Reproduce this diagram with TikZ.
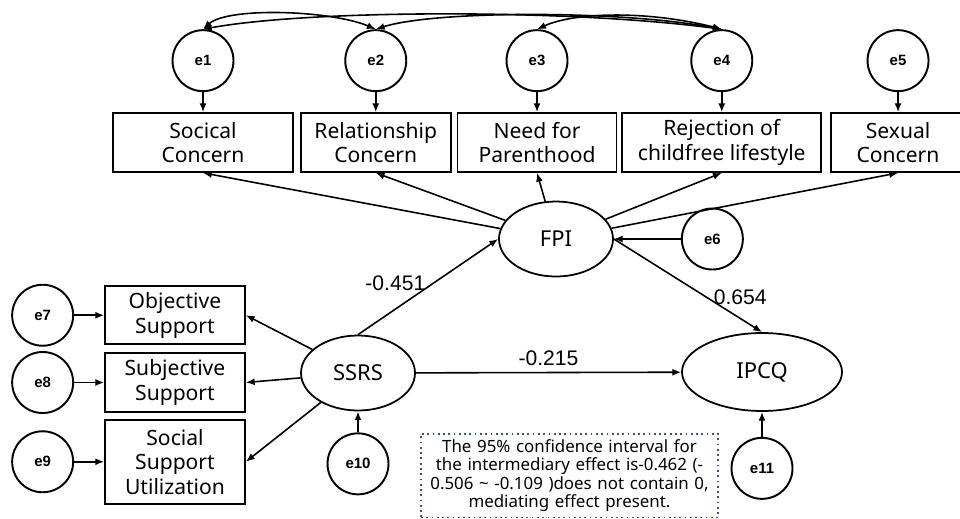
\documentclass[tikz,border=0pt]{standalone}
\usepackage{fontspec}
\setmainfont{Noto Sans}
\newfontfamily\numfont{Liberation Sans}
\newfontfamily\errfont{Liberation Sans}
\usepackage{xcolor}
\usetikzlibrary{shapes,arrows.meta,positioning,calc}
\definecolor{noteblue}{RGB}{47,84,150}

\begin{document}
\begin{tikzpicture}[
    node distance=0.4cm and 0.1cm,
    obs/.style={rectangle, draw, line width=1pt, align=center, minimum height=1.18cm, inner sep=1pt, font=\fontsize{12}{14}\selectfont},
    lat/.style={ellipse, draw, line width=1pt, minimum width=2.28cm, minimum height=1.5cm, inner sep=1pt, font=\fontsize{12.5}{14}\selectfont},
    err/.style={circle, draw, line width=1.1pt, minimum size=1.22cm, inner sep=0pt, font=\errfont\bfseries\fontsize{8.5}{9}\selectfont},
    arr/.style={-{Latex[length=5pt,width=4pt]}, line width=0.9pt},
    cov/.style={{Latex[length=5pt,width=4pt]}-{Latex[length=5pt,width=4pt]}, line width=0.9pt},
    coef/.style={font=\numfont\fontsize{12}{14}\selectfont},
    note/.style={rectangle, draw=noteblue, dotted, line width=1pt, align=center, text width=5.8cm, inner xsep=2pt, minimum height=1.66cm, font=\fontsize{9.6}{10.4}\selectfont}
]
    \useasboundingbox (0,0) rectangle (19.2,-10.36);

    % FPI indicators
    \node [obs, minimum width=3.6cm] (soc) at (4.06,-2.85) {Socical\\Concern};
    \node [obs, minimum width=3.0cm, right=0.12cm of soc] (rel) {Relationship\\Concern};
    \node [obs, minimum width=3.18cm, right=0.1cm of rel] (par) {Need for\\Parenthood};
    \node [obs, minimum width=3.98cm, right=0.08cm of par] (rej) {Rejection of\\childfree lifestyle};
    \node [obs, minimum width=2.68cm, right=0.16cm of rej] (sex) {Sexual\\Concern};

    \node [err, above=of soc] (e1) {e1};
    \node [err, above=of rel] (e2) {e2};
    \node [err, above=of par] (e3) {e3};
    \node [err, above=of rej] (e4) {e4};
    \node [err, above=of sex] (e5) {e5};

    % SSRS indicators
    \node [obs, minimum width=2.8cm] (subj) at (3.5,-7.65) {Subjective\\Support};
    \node [obs, minimum width=2.8cm, minimum height=1.16cm, above=0.14cm of subj] (obj) {Objective\\Support};
    \node [obs, minimum width=2.8cm, minimum height=1.68cm, below=0.12cm of subj] (util) {Social\\Support\\Utilization};

    \node [err, left=0.6cm of obj] (e7) {e7};
    \node [err, left=0.6cm of subj] (e8) {e8};
    \node [err, left=0.6cm of util] (e9) {e9};

    % latent variables
    \node [lat] (fpi) at (11.12,-4.78) {FPI};
    \node [lat] (ssrs) at (7.16,-7.46) {SSRS};
    \node [lat, minimum width=3.2cm, minimum height=1.56cm] (ipcq) at (15.24,-7.44) {IPCQ};

    \node [err, right=1.34cm of fpi] (e6) {e6};
    \node [err, below=0.42cm of ssrs] (e10) {e10};
    \node [err, below=0.5cm of ipcq] (e11) {e11};

    \node [note, anchor=north] (ci) at (11.39,-8.66) {The 95\% confidence interval for\\the intermediary effect is-0.462 (-\\0.506 \textasciitilde{} -0.109 )does not contain 0,\\mediating effect present.};

    % error terms
    \draw [arr] (e1) -- (soc);
    \draw [arr] (e2) -- (rel);
    \draw [arr] (e3) -- (par);
    \draw [arr] (e4) -- (rej);
    \draw [arr] (e5) -- (sex);
    \draw [arr] (e7) -- (obj);
    \draw [arr] (e8) -- (subj);
    \draw [arr] (e9) -- (util);
    \draw [arr] (e6) -- (fpi);
    \draw [arr] (e10) -- (ssrs);
    \draw [arr] (e11) -- (ipcq);

    % covariances
    \draw [cov] (e1.north) .. controls +(0.5,0.45) and +(-0.9,0.38) .. (e2.north);
    \draw [cov] (e1.north) .. controls +(2.2,0.4) and +(-3,0.4) .. (e4.north);
    \draw [cov] (e2.north) .. controls +(1.2,0.38) and +(-2,0.38) .. (e4.north);
    \draw [cov] (e3.north) .. controls +(0.8,0.36) and +(-1.4,0.36) .. (e4.north);

    % loadings
    \draw [arr] (fpi) -- (soc.south);
    \draw [arr] (fpi) -- (rel.south);
    \draw [arr] (fpi) -- (par.south);
    \draw [arr] (fpi) -- (rej.south);
    \draw [arr] (fpi) -- (sex.south);
    \draw [arr] (ssrs) -- (obj.east);
    \draw [arr] (ssrs) -- (subj.east);
    \draw [arr] (ssrs) -- (util.east);

    % structural paths
    \draw [arr] (ssrs.north) -- node [coef, pos=0.54, left=1pt] {-0.451} (fpi.west);
    \draw [arr] (fpi.east) -- node [coef, pos=0.63, right] {0.654} (ipcq.north);
    \draw [arr] (ssrs) -- node [coef, midway, above] {-0.215} (ipcq);
\end{tikzpicture}
\end{document}
